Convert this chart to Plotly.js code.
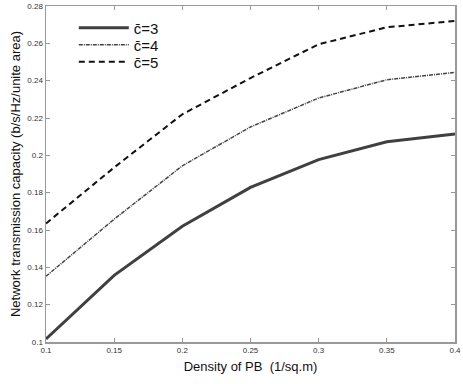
<!DOCTYPE html>
<html><head><meta charset="utf-8">
<script src="https://cdn.plot.ly/plotly-3.0.1.min.js"></script>
<style>html,body{margin:0;padding:0;background:#fff;}#chart{width:463px;height:384px;}</style>
</head><body><div id="chart"></div>
<script>
var density = [0.1, 0.15, 0.2, 0.25, 0.3, 0.35, 0.4];
var c3 = [0.1016, 0.1357, 0.1620, 0.1828, 0.1977, 0.2073, 0.2115];
var c4 = [0.1352, 0.1658, 0.1944, 0.2152, 0.2307, 0.2405, 0.2444];
var c5 = [0.1635, 0.1935, 0.2220, 0.2414, 0.2595, 0.2686, 0.2720];
var names = ['c\u0304=3', 'c\u0304=4', 'c\u0304=5'];

var FONT = 'Liberation Sans, Arial, sans-serif';
var traces = [
  {x: density, y: c3, name: names[0], mode: 'lines', legend: 'legend', line: {color: '#404040', width: 3}},
  {x: density, y: c4, name: names[1], mode: 'lines', legend: 'legend2', line: {color: '#444444', width: 1.5, dash: '4px,1px,1px,1px'}},
  {x: density, y: c5, name: names[2], mode: 'lines', legend: 'legend3', line: {color: '#111111', width: 2, dash: '6px,4px'}}
];
var axisCommon = {
  showline: true, mirror: 'ticks', linecolor: '#999', linewidth: 1.5,
  ticks: 'inside', ticklen: 4, tickcolor: '#999', showgrid: false, zeroline: false,
  tickfont: {family: FONT, size: 8, color: '#333'}
};
function leg(yc) {
  return {x: 0.068, y: yc, xanchor: 'left', yanchor: 'middle', bgcolor: 'rgba(0,0,0,0)',
    font: {family: FONT, size: 15, color: '#111'}, itemwidth: 50};
}
var layout = {
  width: 463, height: 384,
  margin: {l: 46, r: 8, t: 6, b: 42},
  paper_bgcolor: '#fff', plot_bgcolor: '#fff',
  showlegend: true,
  legend: leg(0.9345), legend2: leg(0.884), legend3: leg(0.833),
  xaxis: Object.assign({}, axisCommon, {range: [0.1, 0.4], tickvals: density,
    title: {text: 'Density of PB  (1/sq.m)', standoff: 8, font: {family: FONT, size: 13, color: '#111'}}}),
  yaxis: Object.assign({}, axisCommon, {range: [0.1, 0.28], dtick: 0.02, tick0: 0.1,
    title: {text: 'Network transmission capacity (b/s/Hz/unite area)', standoff: 4, font: {family: FONT, size: 13, color: '#111'}}})
};
Plotly.newPlot('chart', traces, layout, {staticPlot: true, displayModeBar: false});
</script></body></html>
